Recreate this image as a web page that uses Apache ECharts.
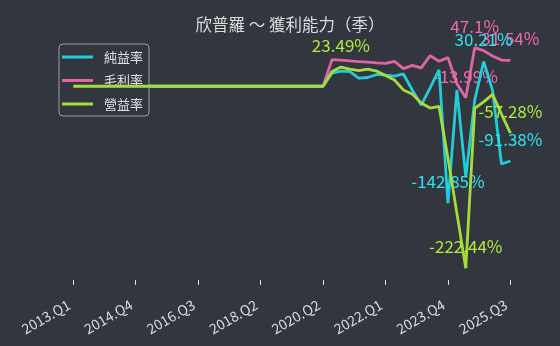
<!DOCTYPE html>
<html><head><meta charset="utf-8">
<script src="https://cdn.jsdelivr.net/npm/echarts@6/dist/echarts.min.js"></script>
<style>html,body{margin:0;padding:0;background:#31363f}#c{width:560px;height:346px}</style>
</head><body><div id="c"></div>
<script>
const categories = [
 '2013.Q1','2013.Q2','2013.Q3','2013.Q4','2014.Q1','2014.Q2','2014.Q3','2014.Q4',
 '2015.Q1','2015.Q2','2015.Q3','2015.Q4','2016.Q1','2016.Q2','2016.Q3','2016.Q4',
 '2017.Q1','2017.Q2','2017.Q3','2017.Q4','2018.Q1','2018.Q2','2018.Q3','2018.Q4',
 '2019.Q1','2019.Q2','2019.Q3','2020.Q1','2020.Q2','2020.Q3','2020.Q4',
 '2021.Q1','2021.Q2','2021.Q3','2021.Q4','2022.Q1','2022.Q2','2022.Q3','2022.Q4',
 '2023.Q1','2023.Q2','2023.Q3','2023.Q4','2024.Q1','2024.Q2','2024.Q3','2024.Q4',
 '2025.Q1','2025.Q2','2025.Q3'];
const netMargin = [0,0,0,0,0,0,0,0,0,0,0,0,0,0,0,0,0,0,0,0,0,0,0,0,0,0,0,0,0,
 16,18.6,18,10,10.7,14.4,13.7,12.5,15,-4.6,-23,-2,20,-142.85,-4.6,-111,-17,30.21,-5,-95,-91.38];
const grossMargin = [0,0,0,0,0,0,0,0,0,0,0,0,0,0,0,0,0,0,0,0,0,0,0,0,0,0,0,0,0,
 32.5,32,31,30,29.5,28.5,28,30.5,21.5,25.5,22.5,37.5,30.5,35,3,-13.99,47.1,43.5,37,32,31.54];
const opMargin = [0,0,0,0,0,0,0,0,0,0,0,0,0,0,0,0,0,0,0,0,0,0,0,0,0,0,0,0,0,
 18,23.49,21,19.2,21,18.6,13.1,7.6,-4.5,-9.5,-20.5,-26.6,-24.7,-88,-155,-222.44,-27,-19,-10,-34,-57.28];
const seriesNames = ['純益率','毛利率','營益率'];
const seriesValues = [netMargin, grossMargin, opMargin];
const colors = ['#22cdd9','#e066a3','#a6dc3a'];
const labelColors = ['#2ee3ee','#f06aa8','#b4ea3c'];
const zs = [3,2,4];
const FONT = '"Noto Sans CJK TC", sans-serif';

function buildData(vals){
  let maxI=0,minI=0;
  vals.forEach((v,i)=>{ if(v>vals[maxI]) maxI=i; if(v<vals[minI]) minI=i; });
  const marks = new Set([maxI,minI,vals.length-1]);
  return vals.map((v,i)=> marks.has(i) ? {value:v,label:{show:true}} : v);
}

const chart = echarts.init(document.getElementById('c'), null, {renderer:'canvas'});
chart.setOption({
  backgroundColor:'#31363f',
  animation:false,
  title:{
    text:'欣普羅 ～ 獲利能力（季）',
    left:290, top:16, padding:0, textAlign:'center',
    textStyle:{color:'#dcdcdc', fontSize:16.5, fontWeight:'normal', fontFamily:FONT}
  },
  legend:{
    orient:'vertical', left:59, top:44,
    padding:[5,6,4,3],
    backgroundColor:'rgba(49,54,63,0.85)',
    borderColor:'#9a9ea6', borderWidth:1, borderRadius:4,
    icon:'rect', itemWidth:31, itemHeight:3, itemGap:7.5,
    textStyle:{color:'#e0e0e0', fontSize:13, lineHeight:16, fontFamily:FONT, padding:[0,0,0,6]},
    data:seriesNames
  },
  grid:{left:73.3, right:49.6, top:20, bottom:66, containLabel:false},
  xAxis:{
    type:'category', data:categories, boundaryGap:false,
    axisLine:{show:false, onZero:false},
    axisTick:{show:true, length:5, interval:6, lineStyle:{color:'#e0e0e0', width:1}},
    axisLabel:{interval:6, rotate:30, color:'#dcdcdc', fontSize:14, margin:21, padding:[0,5,0,0], fontFamily:FONT},
    splitLine:{show:false}
  },
  yAxis:{type:'value', min:-236.74, max:80.95, show:false, splitLine:{show:false}},
  series: seriesNames.map((n,k)=>({
    name:n, type:'line', data:buildData(seriesValues[k]),
    symbol:'circle', symbolSize:0, showSymbol:true, z:zs[k],
    lineStyle:{color:colors[k], width:2.8},
    itemStyle:{color:colors[k]},
    label:{show:false, position:'top', distance:13, color:labelColors[k], fontSize:17,
      fontFamily:FONT, formatter:p=>p.value+'%'},
    labelLayout:{hideOverlap:false}
  }))
});
</script></body></html>
